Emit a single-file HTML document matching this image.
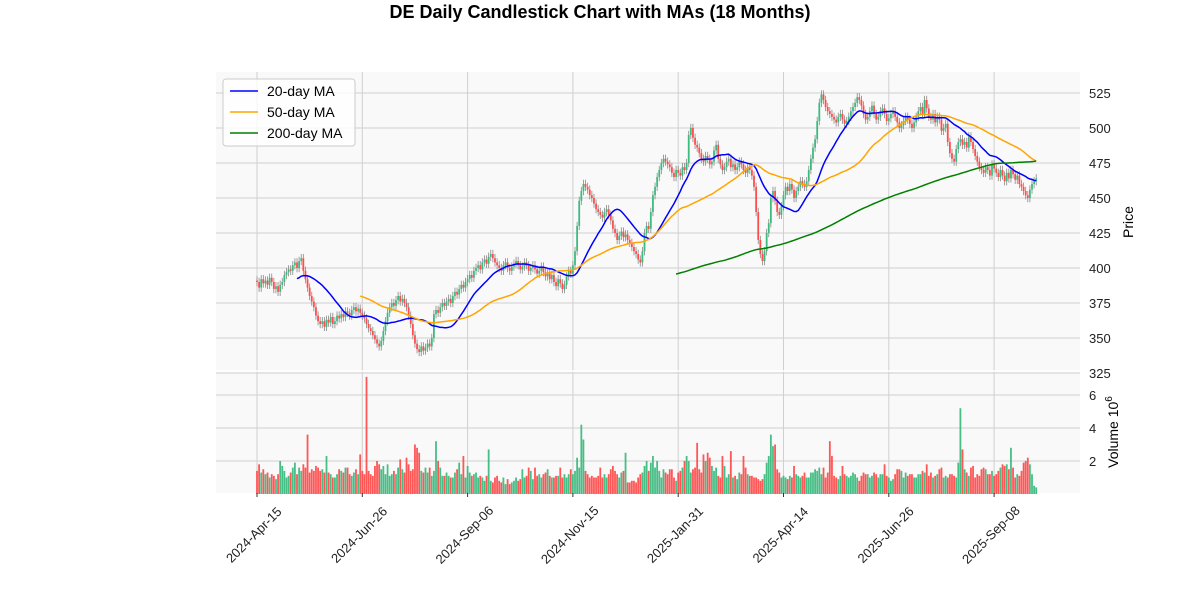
<!DOCTYPE html>
<html><head><meta charset="utf-8">
<style>
html,body{margin:0;padding:0;background:#fff;}
svg{display:block;font-family:"Liberation Sans",sans-serif;}
</style></head>
<body>
<svg id="chart" width="1200" height="600">
<text x="600" y="18" text-anchor="middle" font-size="18" font-weight="bold" fill="#000">DE Daily Candlestick Chart with MAs (18 Months)</text>
<rect x="216" y="72" width="864" height="299" fill="#f9f9f9"/>
<rect x="216" y="371" width="864" height="122" fill="#f9f9f9"/>
<g id="grid"></g>
<g id="vol"></g>
<g id="candles"></g>
<g id="mas"></g>
<g id="axes"></g>
<line x1="216" y1="371" x2="1080" y2="371" stroke="#fff" stroke-width="1.5"/>
<text transform="translate(1133,222) rotate(-90)" text-anchor="middle" font-size="14" fill="#000">Price</text>
<text transform="translate(1118,432) rotate(-90)" text-anchor="middle" font-size="14" fill="#000">Volume  10<tspan dy="-6" font-size="10">6</tspan></text>
<g>
<rect x="223" y="79" width="132" height="67" fill="#fff" fill-opacity="0.8" stroke="#ccc" rx="3"/>
<line x1="230" y1="91" x2="258" y2="91" stroke="#0000ff" stroke-width="1.5"/>
<text x="267" y="96" font-size="14">20-day MA</text>
<line x1="230" y1="112" x2="258" y2="112" stroke="#ffa500" stroke-width="1.5"/>
<text x="267" y="117" font-size="14">50-day MA</text>
<line x1="230" y1="133" x2="258" y2="133" stroke="#008000" stroke-width="1.5"/>
<text x="267" y="138" font-size="14">200-day MA</text>
</g>
</svg>
<script>
const closes = [
390,386,392,389,391,388,393,390,385,387,
383,388,390,395,397,399,398,402,404,400,
405,407,398,392,386,380,376,372,366,362,
360,362,358,363,361,365,360,362,366,364,
367,365,369,368,366,370,372,369,371,368,
366,364,360,357,355,352,349,346,344,348,
355,362,368,372,375,373,377,380,376,378,
375,372,366,360,352,346,342,340,344,341,
343,346,344,350,367,370,368,372,375,373,
376,378,375,380,383,381,385,388,386,390,
392,395,393,398,400,402,399,404,406,403,
408,410,407,404,402,400,398,402,404,400,
398,401,403,405,402,399,401,404,402,398,
400,402,399,396,398,401,397,394,396,392,
395,390,387,392,389,385,388,394,398,396,
402,412,430,448,455,460,458,456,452,450,
446,442,440,438,436,440,442,438,434,428,
425,420,423,426,422,424,420,418,415,412,
410,406,404,412,425,430,428,440,452,458,
465,470,475,478,476,474,472,468,465,470,
468,466,472,470,475,495,500,493,488,486,
482,478,476,480,478,474,476,484,488,478,
474,470,472,476,478,472,474,470,472,476,
474,470,468,472,470,466,458,440,420,410,
405,412,425,432,450,455,448,440,438,444,
452,458,455,460,456,450,455,458,462,460,
458,462,470,478,486,492,505,518,524,520,
515,512,510,508,506,504,508,510,506,503,
505,508,512,515,518,522,520,516,510,506,
508,512,516,510,506,508,512,514,510,505,
507,510,512,508,504,500,502,505,508,506,
503,500,504,508,512,515,510,520,514,508,
506,510,504,508,506,498,500,503,490,482,
478,476,485,490,492,488,490,486,494,490,
485,480,476,472,470,468,472,470,466,474,
471,468,465,470,466,462,468,464,470,467,
463,466,460,458,455,452,450,456,460,462,
464];
const volumes = [
1.4,1.8,1.3,1.5,1.2,1.3,1.0,1.2,1.1,0.9,
1.2,2.0,1.7,1.4,1.0,1.1,1.3,1.6,1.9,1.2,
1.6,1.4,1.8,1.6,3.6,1.3,1.5,1.4,1.7,1.6,
1.4,1.5,1.3,2.3,1.3,1.2,1.0,1.0,1.2,1.5,
1.4,1.3,1.6,1.6,1.2,1.1,1.3,1.5,1.2,2.4,
1.4,1.2,7.1,1.4,1.2,1.1,1.7,2.0,1.8,1.5,
1.7,1.2,1.8,1.1,1.2,1.4,1.2,1.6,2.1,1.5,
1.3,2.2,1.8,1.4,1.5,3.0,2.8,2.5,1.4,1.3,
1.6,1.3,1.6,1.1,1.4,3.2,2.0,1.6,1.1,1.1,
1.3,1.1,1.0,1.0,1.3,1.5,1.9,1.2,2.3,1.0,
1.7,1.3,1.1,1.2,1.3,1.0,1.1,1.0,0.8,1.1,
2.7,0.8,0.7,1.0,1.1,0.8,0.7,1.0,0.6,0.9,
0.6,0.7,0.8,1.0,0.8,0.9,1.5,1.0,1.1,1.6,
1.4,0.9,1.6,1.1,1.2,1.0,1.2,1.3,1.5,1.1,
1.0,1.0,1.1,1.1,1.6,1.0,1.2,1.0,1.2,1.5,
1.2,1.4,2.2,1.6,4.2,3.3,1.4,1.2,1.0,1.1,
1.0,1.0,1.1,1.6,1.0,1.2,1.0,1.2,1.5,1.7,
1.4,1.2,1.0,1.3,1.4,2.5,0.7,0.7,0.8,0.8,
0.7,1.0,1.2,1.3,1.7,2.0,1.4,1.9,2.3,1.6,
2.0,1.4,1.0,1.5,1.3,1.2,1.5,1.5,1.0,0.8,
1.3,1.4,1.6,2.0,2.3,2.0,1.3,1.5,1.6,3.1,
1.5,1.3,2.4,2.0,2.5,2.2,1.7,1.4,1.6,1.1,
1.0,2.3,1.7,1.0,1.2,2.6,1.0,1.1,0.9,1.3,
1.2,2.3,1.6,1.2,1.1,1.1,1.0,1.0,0.9,0.8,
0.9,1.2,1.9,2.3,3.6,2.9,3.0,1.5,1.3,1.0,
1.1,1.0,0.9,1.1,1.0,1.7,1.2,1.1,1.0,1.1,
1.3,1.0,1.0,1.3,1.3,1.5,1.4,1.6,1.2,1.6,
1.0,1.3,3.2,2.3,1.1,1.0,0.9,1.1,1.7,1.2,
1.1,1.0,1.1,1.3,1.2,1.0,0.8,1.1,1.3,1.2,
1.2,1.0,1.1,1.3,1.2,1.0,1.2,1.2,1.8,1.1,
1.0,0.8,0.9,1.2,1.5,1.5,1.4,1.0,1.3,1.1,
1.2,1.2,1.0,1.0,1.2,1.2,1.4,1.3,1.8,1.1,
1.3,1.0,1.1,1.2,1.5,1.6,1.0,1.1,1.0,1.2,
1.2,1.1,1.0,1.9,5.2,2.7,1.5,1.3,1.1,1.6,
1.7,1.0,1.2,1.1,1.5,1.6,1.5,1.2,1.2,1.4,
1.1,1.2,1.4,1.6,1.8,1.7,1.8,1.5,2.8,1.6,
1.0,1.2,1.1,1.4,1.9,2.0,2.2,1.8,1.2,0.5,
0.4];
const priceTicks = [325,350,375,400,425,450,475,500,525];
const volTicks = [2,4,6];
const dateTicks = [0,50,100,150,200,250,300,350];
const dateLabels = ["2024-Apr-15","2024-Jun-26","2024-Sep-06","2024-Nov-15","2025-Jan-31","2025-Apr-14","2025-Jun-26","2025-Sep-08"];

const NS="http://www.w3.org/2000/svg";
const X=i=>257+i*2.106;
const Y=p=>93+(525-p)*1.4;
const YV=v=>494-16.5*v;
function mk(tag,attrs,parent){const e=document.createElementNS(NS,tag);for(const k in attrs)e.setAttribute(k,attrs[k]);parent.appendChild(e);return e;}
const grid=document.getElementById('grid'),axes=document.getElementById('axes');
priceTicks.forEach(p=>{
  const l=mk('line',{x1:216,x2:1080,y1:Y(p),y2:Y(p),stroke:'#d0d0d0','stroke-width':1},grid);
  
  
  const t=mk('text',{x:1089,y:Y(p)+5,'font-size':13,fill:'#222'},axes);t.textContent=p;
  
  
});
volTicks.forEach(v=>{
  const l=mk('line',{x1:216,x2:1080,y1:YV(v),y2:YV(v),stroke:'#d0d0d0','stroke-width':1},grid);
  
  
  const t=mk('text',{x:1089,y:YV(v)+5,'font-size':13,fill:'#222'},axes);t.textContent=v;
  
  
});
dateTicks.forEach((d,k)=>{
  const x=X(d);
  const l=mk('line',{x1:x,x2:x,y1:72,y2:493,stroke:'#d0d0d0','stroke-width':1},grid);
  
  
  mk('line',{x1:x,x2:x,y1:493,y2:497,stroke:'#333'},axes);
  const t=mk('text',{transform:`translate(${x},${538}) rotate(-45)`,'text-anchor':'middle','font-size':13,fill:'#222'},axes);
  t.textContent=dateLabels[k];
  
  
});
const cg=document.getElementById('candles'),vg=document.getElementById('vol');
for(let i=0;i<closes.length;i++){
  const c=closes[i],o=i>0?closes[i-1]:c+1;
  const up=c>=o,col=up?'#3dbb7f':'#ff4d4d';
  const hi=Math.max(o,c)+3,lo=Math.min(o,c)-3,x=X(i);
  const w=mk('line',{x1:x,x2:x,y1:Y(hi),y2:Y(lo),stroke:'#888','stroke-width':0.8},cg);
  
  
  const top=Y(Math.max(o,c)),h=Math.max(1,Math.abs(Y(o)-Y(c)));
  const r=mk('rect',{x:x-0.9,y:top,width:1.8,height:h,fill:col},cg);
  
  
  const vb=mk('rect',{x:x-0.9,y:YV(volumes[i]),width:1.8,height:494-YV(volumes[i]),fill:col,'fill-opacity':0.95},vg);
  
  
}
const mg=document.getElementById('mas');
[[20,'#0000ff','ma-20-line'],[50,'#ffa500','ma-50-line'],[200,'#008000','ma-200-line']].forEach(([n,col,name])=>{
  let pts=[];
  for(let i=n-1;i<closes.length;i++){let s=0;for(let j=i-n+1;j<=i;j++)s+=closes[j];pts.push(X(i).toFixed(1)+','+Y(s/n).toFixed(1));}
  const pl=mk('polyline',{points:pts.join(' '),fill:'none',stroke:col,'stroke-width':1.5},mg);
  
  
});
</script>
</body></html>
